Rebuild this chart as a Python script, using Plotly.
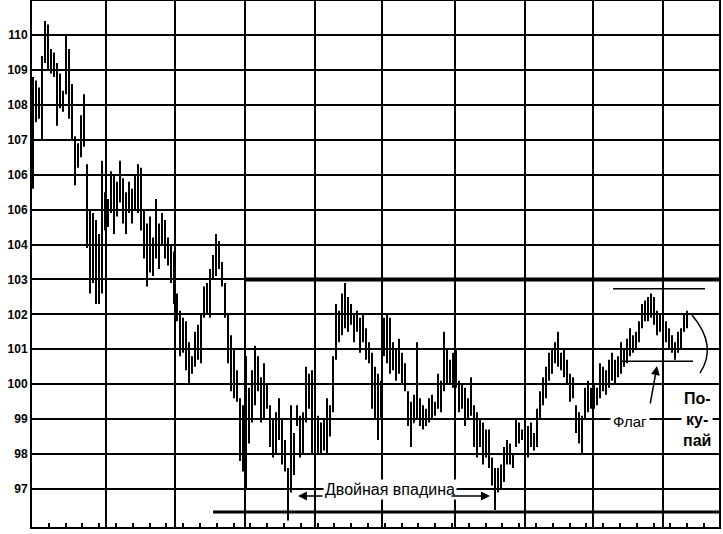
import plotly.graph_objects as go

highs = [108.8,108.7,108.5,109.4,110.4,110.3,109.6,109.5,109.2,108.9,108.4,110.0,109.6,108.6,107.1,106.9,107.7,108.3,106.3,105.0,
         104.9,104.7,104.3,106.4,105.5,105.3,106.1,106.0,105.8,106.4,105.9,105.5,105.8,105.6,106.0,106.3,106.2,105.0,104.6,104.8,
         104.2,105.3,104.6,104.9,104.7,104.2,104.0,103.8,102.6,102.1,101.9,101.8,101.2,100.8,101.5,101.7,102.0,102.8,102.9,103.3,
         103.7,104.3,104.1,103.5,102.9,102.0,101.4,101.0,100.4,99.6,99.4,100.8,99.9,100.4,101.1,100.8,100.2,100.6,100.0,99.4,
         99.0,99.2,99.6,99.0,98.4,97.6,99.4,98.6,99.4,99.1,99.2,100.5,100.3,100.4,99.3,99.1,98.9,99.0,99.6,99.4,
         100.8,102.3,102.1,102.6,102.9,102.5,102.3,102.0,102.1,101.9,102.0,101.6,101.2,100.9,100.5,100.3,100.1,101.9,102.0,101.9,
         101.2,101.0,101.3,100.9,100.6,99.8,99.5,99.7,101.2,99.6,99.4,99.3,99.6,99.7,99.5,100.3,100.1,101.5,101.0,100.7,
         100.9,101.0,100.1,100.0,99.9,99.6,100.2,99.4,99.2,99.0,98.9,98.7,98.7,97.9,97.6,97.6,97.7,98.2,98.4,98.3,
         98.0,99.0,98.9,98.7,98.5,98.8,98.9,98.6,99.3,99.8,100.2,100.5,100.9,101.0,101.2,101.5,100.9,101.0,100.7,100.3,
         100.2,99.4,99.2,99.1,99.9,100.1,99.9,100.0,99.9,100.6,100.5,100.4,100.7,100.9,100.7,100.8,101.2,101.0,101.3,101.6,
         101.4,101.5,101.8,102.3,102.4,102.5,102.6,102.5,102.1,102.0,102.1,101.8,101.6,101.4,101.2,101.5,101.6,102.0,102.1]
lows = [105.6,107.5,107.6,107.0,109.2,109.0,108.9,108.8,107.4,107.9,107.8,108.3,107.6,107.0,105.7,106.2,106.5,106.8,103.9,102.6,
        102.9,102.3,102.3,102.6,104.4,104.5,104.9,104.3,104.8,105.2,104.6,104.3,104.9,104.6,105.0,104.9,104.4,103.6,102.8,103.2,
        103.1,103.6,103.3,104.0,103.6,103.4,102.9,102.3,101.8,100.8,100.9,100.4,100.0,100.3,100.5,100.7,100.6,101.9,102.0,101.9,
        103.0,103.1,103.3,102.8,101.9,100.6,99.8,99.6,99.5,97.8,97.5,97.0,98.3,98.9,99.4,99.8,98.9,99.0,99.3,98.2,
        97.9,98.0,98.4,97.7,97.5,96.1,96.9,97.4,98.8,97.9,98.0,98.9,99.3,98.0,98.6,98.0,98.0,98.1,98.0,98.5,
        99.2,100.7,101.2,101.4,101.6,101.5,101.7,101.2,101.5,100.9,101.2,100.7,100.6,99.3,99.0,98.4,99.0,100.8,100.6,100.3,
        100.4,100.1,100.3,100.0,99.8,98.8,98.2,98.9,99.0,98.8,98.7,98.8,98.9,99.0,99.1,99.3,99.2,99.8,100.0,100.0,
        99.9,99.9,99.2,99.3,98.8,99.0,99.1,98.2,97.9,98.2,97.7,97.9,97.6,97.1,96.4,96.9,97.0,97.2,97.7,97.7,
        97.6,98.2,98.3,98.4,97.8,97.9,98.2,98.1,98.2,99.0,99.4,99.6,100.1,100.3,100.6,100.5,100.4,100.2,100.0,99.5,
        99.6,98.6,98.3,98.0,99.0,99.2,99.3,99.3,99.4,99.6,99.8,99.7,99.9,100.1,100.0,100.2,100.3,100.5,100.6,100.8,
        100.9,101.0,101.2,101.6,101.8,101.8,101.9,101.7,101.4,101.5,101.6,101.2,101.0,100.9,100.7,100.9,101.0,101.5,101.6]
opens = [106.0,108.2,107.9,108.3,109.3,110.1,109.3,109.0,109.1,108.0,108.2,108.4,109.4,107.9,107.0,106.3,106.7,107.2,106.1,104.3,
         103.1,104.4,102.6,103.8,105.3,104.7,105.1,105.7,104.9,105.5,105.8,104.8,105.1,105.4,105.1,105.8,105.3,104.7,103.8,103.3,
         104.0,103.7,104.5,104.1,104.5,103.7,103.9,103.2,102.4,101.9,101.2,101.5,100.8,100.4,100.6,101.2,100.9,102.0,102.5,102.2,
         103.1,103.5,104.0,103.4,102.8,101.9,100.9,100.1,100.2,99.5,98.0,98.9,99.7,99.0,100.0,100.6,100.0,99.3,99.8,99.3,
         98.4,98.8,98.5,98.9,97.9,97.4,97.0,98.4,98.9,99.0,98.3,99.0,100.1,99.6,98.7,98.9,98.3,98.6,98.2,99.2,
         99.3,100.8,101.9,101.6,102.3,101.8,102.1,101.9,101.6,101.8,101.3,101.5,100.9,100.8,99.5,100.0,99.1,101.0,101.6,100.8,
         101.0,100.5,100.7,100.8,100.2,99.7,99.0,98.9,99.4,99.3,99.0,98.9,99.1,99.3,99.2,99.4,100.0,99.9,100.9,100.3,
         100.4,100.6,100.0,99.5,99.7,99.1,99.4,99.3,98.5,98.3,98.7,98.0,98.4,97.8,97.3,97.0,97.3,97.4,98.0,98.1,
         97.9,98.3,98.7,98.5,98.4,98.1,98.6,98.4,98.3,99.1,99.6,99.9,100.3,100.6,100.8,101.0,100.7,100.5,100.6,100.2,
         99.7,99.3,98.9,98.5,99.1,99.6,99.5,99.7,99.5,99.8,100.3,100.0,100.2,100.4,100.6,100.3,100.6,100.9,100.8,101.1,
         101.3,101.1,101.4,101.7,102.1,102.0,102.2,102.1,101.9,101.6,101.8,101.7,101.4,101.1,101.0,101.0,101.2,101.6,101.8]
closes = [108.2,107.9,108.3,109.1,110.2,109.4,109.0,109.3,107.8,108.6,108.0,109.7,107.9,107.2,106.0,106.7,107.3,107.0,104.2,103.0,
          104.5,102.6,103.9,105.9,104.7,105.1,105.8,104.6,105.5,106.1,104.9,105.2,105.6,104.9,105.8,105.2,104.6,103.9,103.1,104.4,
          103.4,104.9,103.6,104.6,103.8,104.0,103.1,102.5,102.0,101.1,101.6,100.7,100.2,100.6,101.3,101.0,101.8,102.6,102.2,103.1,
          103.5,104.1,103.5,103.0,102.1,100.9,100.1,100.7,99.7,98.1,99.0,100.4,98.6,100.1,100.7,100.0,99.2,100.3,99.5,98.4,
          98.7,98.2,99.3,97.9,97.7,96.5,99.0,97.7,99.2,98.2,98.9,100.2,99.5,98.4,99.1,98.2,98.7,98.3,99.3,98.8,
          100.6,102.0,101.5,102.4,101.9,102.2,101.9,101.4,101.9,101.1,101.8,100.9,101.0,99.6,100.2,98.8,99.9,101.7,100.9,101.5,
          100.6,100.8,101.1,100.2,100.0,99.0,98.5,99.5,99.2,99.0,98.9,99.1,99.4,99.2,99.4,100.1,99.5,101.2,100.3,100.5,
          100.7,100.1,99.4,99.8,99.1,99.4,99.9,98.5,98.1,98.8,97.9,98.4,97.8,97.3,96.8,97.4,97.5,98.0,98.2,97.9,
          97.8,98.8,98.5,98.6,98.0,98.6,98.4,98.3,99.1,99.6,100.0,100.3,100.7,100.8,101.0,100.7,100.6,100.8,100.2,99.7,
          100.0,98.9,98.5,98.9,99.7,99.5,99.7,99.5,99.8,100.4,100.0,100.2,100.5,100.7,100.3,100.6,101.0,100.7,101.1,101.4,
          101.1,101.4,101.7,102.1,102.0,102.3,102.1,101.9,101.6,101.8,101.7,101.4,101.1,101.0,100.9,101.3,101.5,101.9,102.0]
bars = list(range(len(highs)))

price_ticks = [97, 98, 99, 100, 101, 102, 103, 104, 105, 106, 107, 108, 109, 110]
price_labels = ["97", "98", "99", "100", "101", "102", "103", "104", "106", "106", "107", "108", "109", "110"]

resistance_level = 103.0
support_level = 96.34
flag_top = 102.73
flag_bottom = 100.66

# pixel helpers for annotation placement
def px(x):
    return (x - 33) / 3.0

def py(y):
    return 110 - (y - 35) / 34.92

FONT = "Liberation Sans, Arial, sans-serif"

fig = go.Figure()
fig.add_trace(go.Ohlc(
    x=bars, open=opens, high=highs, low=lows, close=closes,
    increasing=dict(line=dict(color="black", width=2)),
    decreasing=dict(line=dict(color="black", width=2)),
    tickwidth=0.3, showlegend=False, hoverinfo="skip"))

shapes = []
for gx in [106, 175, 245, 315, 382, 455, 525, 593, 663]:
    shapes.append(dict(type="line", xref="x", yref="paper", x0=px(gx), x1=px(gx), y0=0, y1=1,
                       line=dict(color="black", width=2), layer="below"))
shapes.append(dict(type="line", xref="x", yref="y", x0=px(245), x1=px(719), y0=resistance_level, y1=resistance_level,
                   line=dict(color="black", width=4)))
shapes.append(dict(type="line", xref="x", yref="y", x0=px(213), x1=px(719), y0=support_level, y1=support_level,
                   line=dict(color="black", width=3)))
shapes.append(dict(type="line", xref="x", yref="y", x0=px(613), x1=px(705), y0=flag_top, y1=flag_top,
                   line=dict(color="black", width=1.5)))
shapes.append(dict(type="line", xref="x", yref="y", x0=px(620), x1=px(693), y0=flag_bottom, y1=flag_bottom,
                   line=dict(color="black", width=1.5)))
shapes.append(dict(type="path", xref="x", yref="y",
                   path=f"M {px(692)},{py(315)} Q {px(718)},{py(346)} {px(700)},{py(373)}",
                   line=dict(color="black", width=1.5)))

annotations = [
    dict(x=px(390), y=py(489), xref="x", yref="y", text="Двойная впадина", showarrow=False,
         font=dict(family=FONT, size=16, color="black"), bgcolor="white", borderpad=1),
    dict(x=px(298), y=py(496), ax=px(324), ay=py(496), xref="x", yref="y", axref="x", ayref="y",
         text="", showarrow=True, arrowhead=2, arrowsize=1.2, arrowwidth=1.5, arrowcolor="black"),
    dict(x=px(490), y=py(496), ax=px(450), ay=py(496), xref="x", yref="y", axref="x", ayref="y",
         text="", showarrow=True, arrowhead=2, arrowsize=1.2, arrowwidth=1.5, arrowcolor="black"),
    dict(x=px(630), y=py(421), xref="x", yref="y", text="Флаг", showarrow=False,
         font=dict(family=FONT, size=15, color="black"), bgcolor="white", borderpad=2),
    dict(x=px(657), y=py(366), ax=px(650), ay=py(405), xref="x", yref="y", axref="x", ayref="y",
         text="", showarrow=True, arrowhead=2, arrowsize=1.2, arrowwidth=1.5, arrowcolor="black"),
    dict(x=px(697), y=py(419), xref="x", yref="y", text="<b>По-<br>ку-<br>пай</b>", showarrow=False,
         font=dict(family=FONT, size=16, color="black"), bgcolor="white", align="center", borderpad=1),
]

fig.update_layout(
    width=723, height=534,
    margin=dict(l=32, r=4, t=1, b=7),
    paper_bgcolor="white", plot_bgcolor="white",
    shapes=shapes, annotations=annotations,
    xaxis=dict(range=[px(32), px(719)], showgrid=False, zeroline=False, rangeslider=dict(visible=False),
               automargin=False,
               showline=True, mirror=True, linecolor="black", linewidth=2,
               tick0=px(32), dtick=5.6, ticks="inside", ticklen=4, tickwidth=1.5, tickcolor="black",
               showticklabels=False),
    yaxis=dict(range=[py(527), py(1)], tickmode="array", tickvals=price_ticks, ticktext=price_labels,
               automargin=False,
               showgrid=True, gridcolor="black", gridwidth=2, zeroline=False,
               showline=True, mirror=True, linecolor="black", linewidth=2, ticks="",
               tickfont=dict(family=FONT, size=12, color="black", weight="bold")),
)

fig.write_html("out.html", config={"displayModeBar": False},
               post_script="document.body.style.margin='0';document.body.style.overflow='hidden';")
